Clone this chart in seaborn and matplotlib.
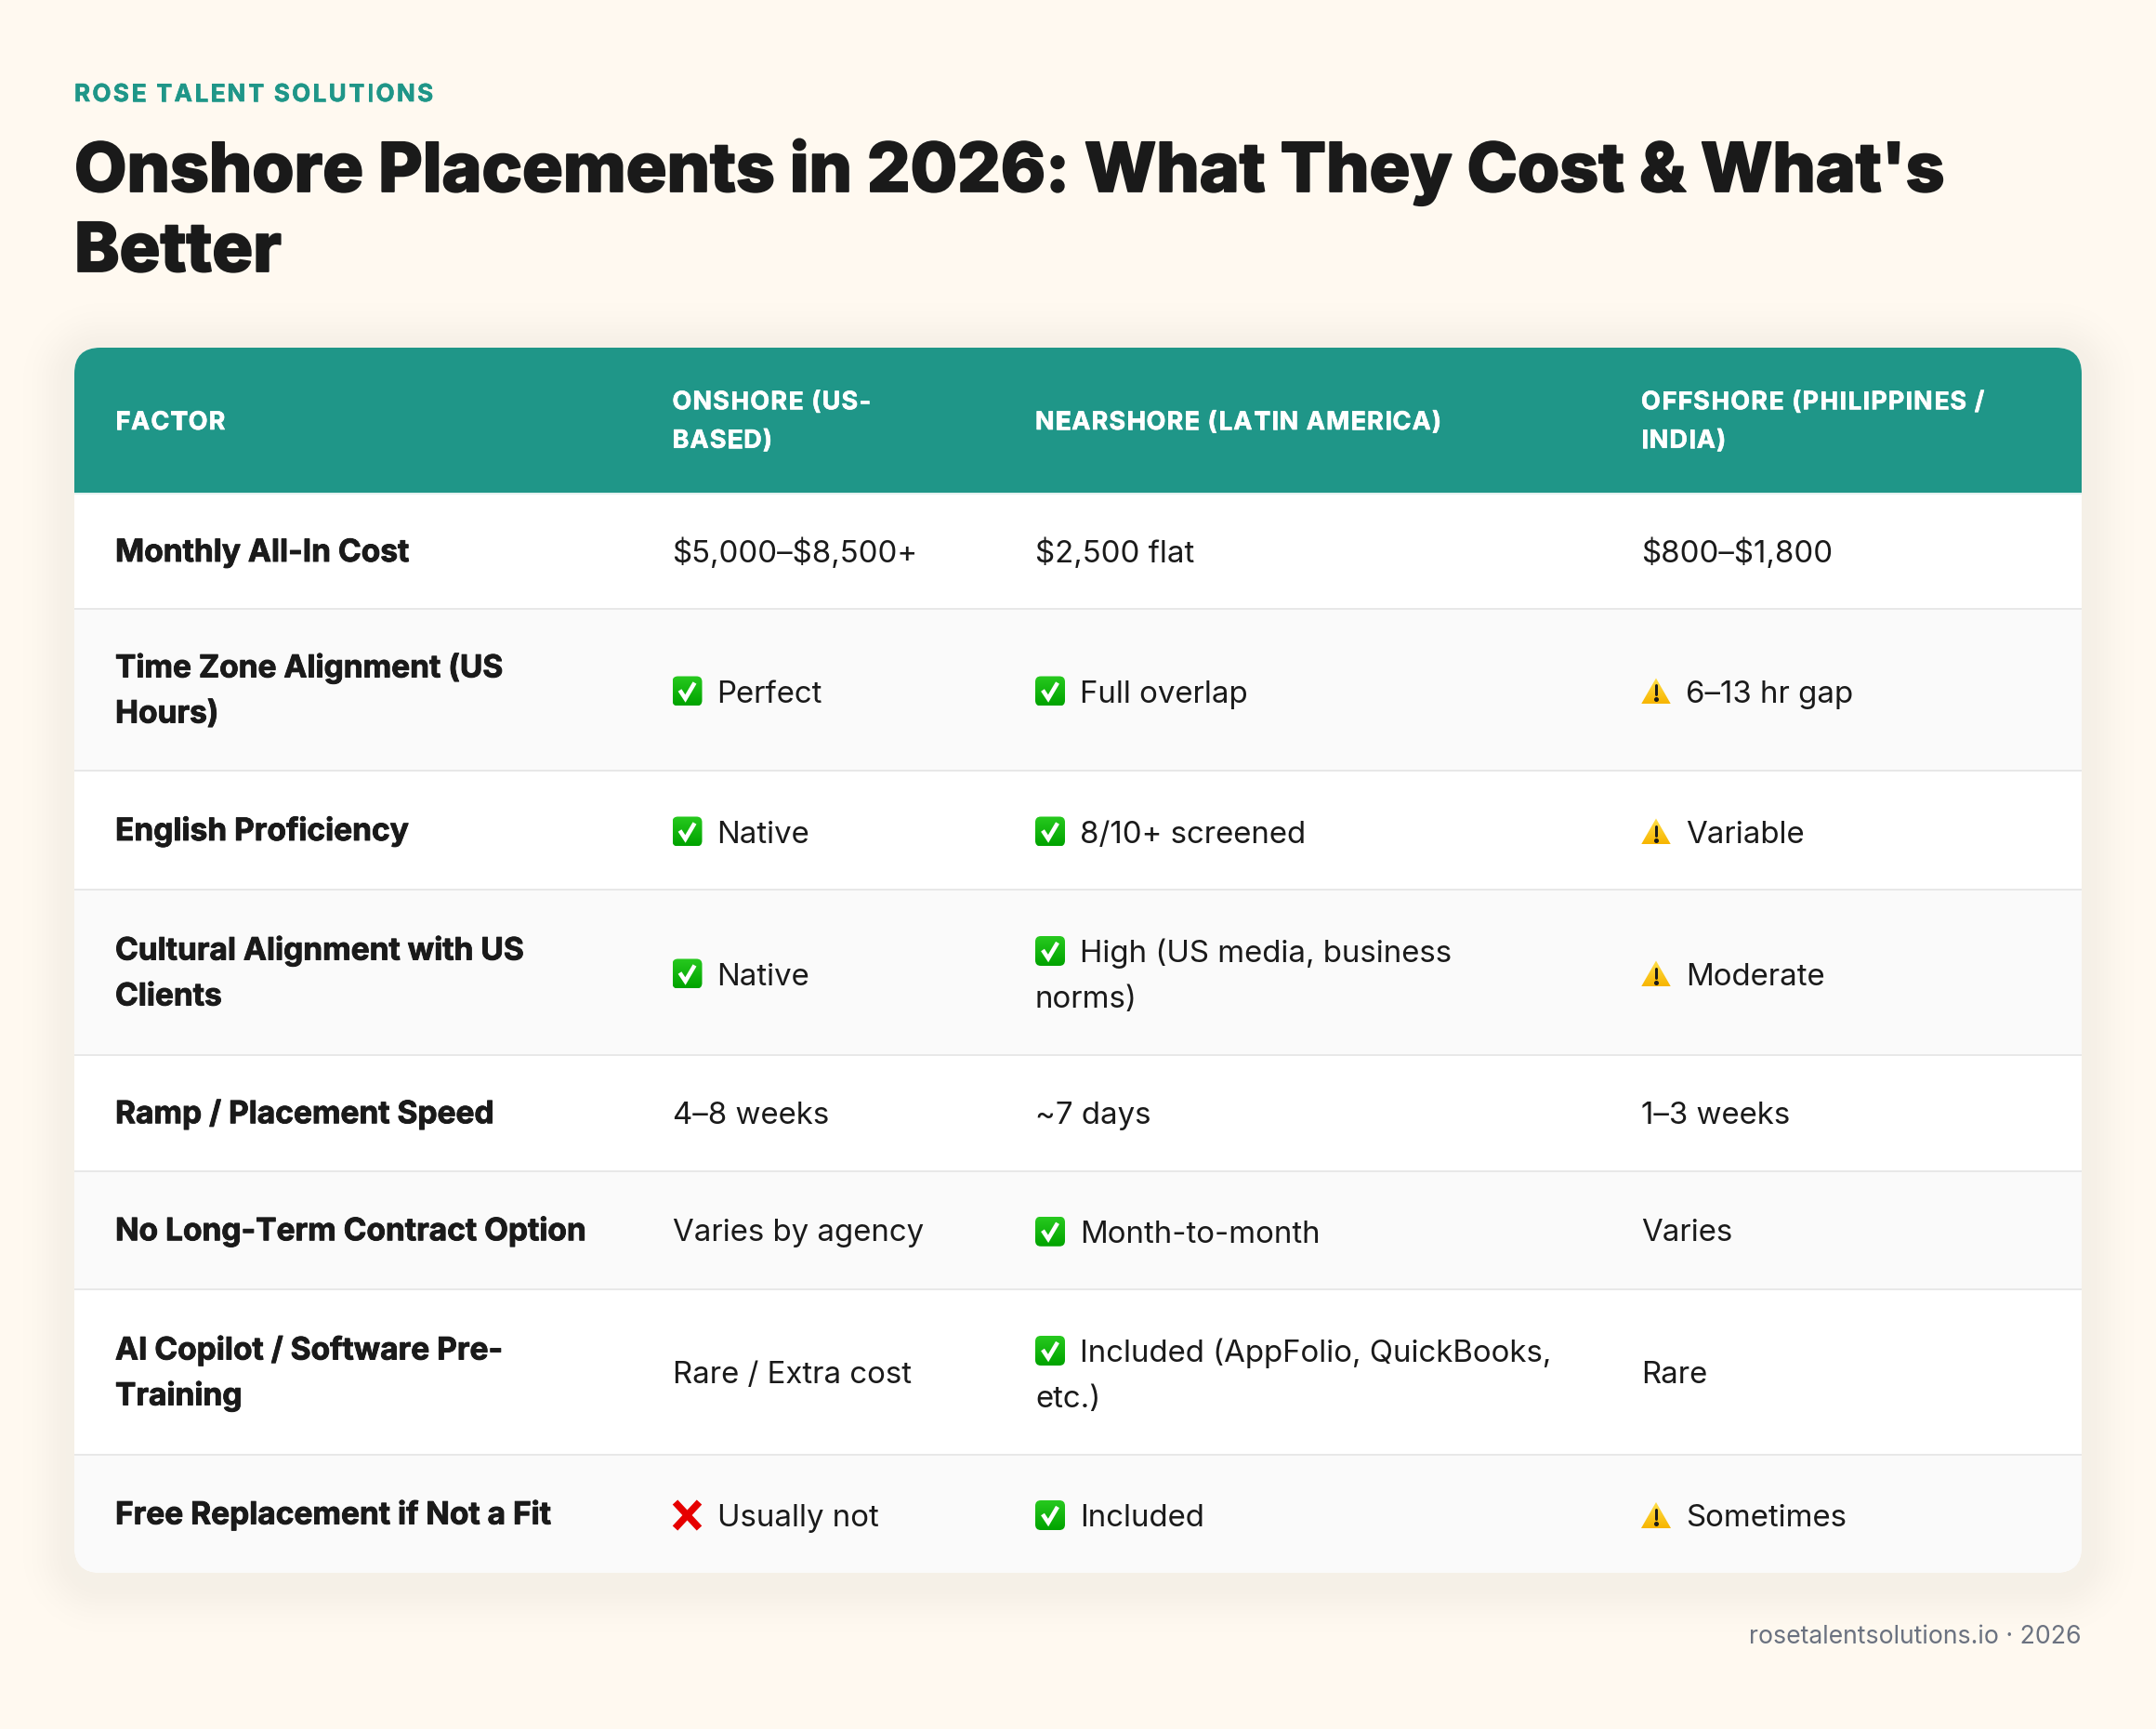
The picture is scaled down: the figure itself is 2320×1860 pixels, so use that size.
import numpy as np
import seaborn as sns
import matplotlib.pyplot as plt
import matplotlib.patheffects as pe
from matplotlib.patches import FancyBboxPatch, Rectangle, Polygon
from matplotlib.font_manager import FontProperties

# table content
eyebrow = "ROSE TALENT SOLUTIONS"
title_lines = ["Onshore Placements in 2026: What They Cost & What's", "Better"]
footer = "rosetalentsolutions.io · 2026"
headers = ["FACTOR", "ONSHORE (US-\nBASED)", "NEARSHORE (LATIN AMERICA)", "OFFSHORE (PHILIPPINES /\nINDIA)"]
factors = ["Monthly All-In Cost", "Time Zone Alignment (US\nHours)", "English Proficiency",
           "Cultural Alignment with US\nClients", "Ramp / Placement Speed",
           "No Long-Term Contract Option", "AI Copilot / Software Pre-\nTraining", "Free Replacement if Not a Fit"]
onshore = ["$5,000–$8,500+", "Perfect", "Native", "Native", "4–8 weeks", "Varies by agency", "Rare / Extra cost", "Usually not"]
onshore_flag = [None, "check", "check", "check", None, None, None, "cross"]
nearshore = ["$2,500 flat", "Full overlap", "8/10+ screened", "High (US media, business\nnorms)", "~7 days",
             "Month-to-month", "Included (AppFolio, QuickBooks,\netc.)", "Included"]
nearshore_flag = [None, "check", "check", "check", None, "check", "check", "check"]
offshore = ["$800–$1,800", "6–13 hr gap", "Variable", "Moderate", "1–3 weeks", "Varies", "Rare", "Sometimes"]
offshore_flag = [None, "warn", "warn", "warn", None, None, None, "warn"]

# layout in pixels
W, H = 2320, 1860
card = (80, 374, 2240, 1692)
header_bottom = 530
row_edges = [531, 655, 829, 957, 1135, 1259.5, 1387, 1565, 1692]
col_x = [124, 723.5, 1114, 1766]
LINE = 49
FONT = ['Inter', 'DejaVu Sans']
TEAL = "#1f9688"
INK = "#1a1a1a"
BG = "#fff9f0"


def pt(px):
    return px * 0.72


sns.set_theme(style="white")
plt.rcParams['font.family'] = FONT

fig = plt.figure(figsize=(W / 100, H / 100), dpi=100, facecolor=BG)
ax = fig.add_axes([0, 0, 1, 1])
ax.set_facecolor(BG)
sns.despine(ax=ax, left=True, bottom=True)


def heavy(px, color=INK):
    return [pe.withStroke(linewidth=pt(px), foreground=color)]


def spaced(x, y, s, size, weight, color, tracking):
    # matplotlib has no letter spacing, so place the letters one by one
    prop = FontProperties(family=FONT, size=pt(size), weight=weight)
    rend = fig.canvas.get_renderer()
    ref = rend.get_text_width_height_descent("x", prop, False)[0]
    for i, ch in enumerate(s):
        adv = rend.get_text_width_height_descent(s[:i] + "x", prop, False)[0] - ref
        ax.text(x + adv + i * tracking, y, ch, fontproperties=prop, color=color, va="baseline", ha="left",
                zorder=6, path_effects=heavy(0.6, color))


def gradient(extent, top, bottom, clip):
    c0, c1 = np.array(plt.matplotlib.colors.to_rgb(top)), np.array(plt.matplotlib.colors.to_rgb(bottom))
    t = np.linspace(0, 1, 32)[:, None, None]
    im = ax.imshow(c0 + (c1 - c0) * t, extent=extent, origin="upper", aspect="auto", zorder=4, interpolation="bilinear")
    im.set_clip_path(clip)


def draw_flag(kind, x, yc):
    if kind == "check":
        box = FancyBboxPatch((x + 4, yc - 12), 24, 24, boxstyle="round,pad=4,rounding_size=6",
                             fc="none", ec="none", transform=ax.transData)
        ax.add_patch(box)
        gradient((x, x + 32, yc + 16, yc - 16), "#27c91f", "#00a300", box)
        ax.plot([x + 8, x + 14, x + 24], [yc - 1, yc + 8, yc - 9], color="white", lw=pt(4.5), zorder=5,
                solid_capstyle="butt", solid_joinstyle="miter")
    elif kind == "warn":
        tri = Polygon([[x + 16, yc - 14], [x + 32, yc + 14], [x, yc + 14]], closed=True, fc="none", ec="none",
                      joinstyle="round")
        ax.add_patch(tri)
        gradient((x, x + 32, yc + 14, yc - 14), "#ffdf4a", "#f7b500", tri)
        ax.plot([x + 16, x + 16], [yc - 6, yc + 4], color="#1a1a1a", lw=pt(3), zorder=5, solid_capstyle="round")
        ax.plot([x + 16], [yc + 9], "o", color="#1a1a1a", ms=pt(3.6), zorder=5)
    elif kind == "cross":
        for sgn in (1, -1):
            ax.plot([x + 3, x + 29], [yc - sgn * 14, yc + sgn * 14], color="#e60000", lw=pt(7.5), zorder=5,
                    solid_capstyle="butt")


# soft card shadow
yy, xx = np.mgrid[0:H, 0:W]
cx, cy = (card[0] + card[2]) / 2, (card[1] + card[3]) / 2 + 8
r = 28
qx = np.abs(xx - cx) - (card[2] - card[0]) / 2 + r
qy = np.abs(yy - cy) - (card[3] - card[1]) / 2 + r
dist = np.hypot(np.maximum(qx, 0), np.maximum(qy, 0)) + np.minimum(np.maximum(qx, qy), 0) - r
shadow = np.zeros((H, W, 4))
shadow[..., :3] = (0.1, 0.08, 0.05)
shadow[..., 3] = 0.042 * np.exp(-(np.maximum(dist, 0) / 36) ** 2)
ax.imshow(shadow, extent=(0, W, H, 0), origin="upper", aspect="auto", zorder=0)

# card with rows clipped to its rounded corners
clip = FancyBboxPatch((card[0] + r, card[1] + r), card[2] - card[0] - 2 * r, card[3] - card[1] - 2 * r,
                      boxstyle=f"round,pad={r},rounding_size={r}", fc="white", ec="none", zorder=1)
ax.add_patch(clip)
hdr = Rectangle((card[0], card[1]), card[2] - card[0], header_bottom - card[1], fc=TEAL, ec="none", zorder=2)
ax.add_patch(hdr)
hdr.set_clip_path(clip)
for i in range(len(factors)):
    top, bot = row_edges[i], row_edges[i + 1]
    band = Rectangle((card[0], top), card[2] - card[0], bot - top, fc="#fafafa" if i % 2 else "white", ec="none", zorder=2)
    ax.add_patch(band)
    band.set_clip_path(clip)
    if i < len(factors) - 1:
        ax.plot([card[0], card[2]], [bot, bot], color="#e8e8e8", lw=pt(2), zorder=3, solid_capstyle="butt")
ax.plot([card[0], card[2]], [531, 531], color="#e3f1ef", lw=pt(2), zorder=3, solid_capstyle="butt")

# heading block
spaced(80, 109, eyebrow, 26, 700, TEAL, 2.3)
for line, base in zip(title_lines, [206, 292]):
    ax.text(80, base, line, fontsize=pt(73.1), fontweight=800, color=INK, va="baseline", ha="left",
            path_effects=heavy(1.8))

# header row
for x, label in zip(col_x, headers):
    lines = label.split("\n")
    yc = (card[1] + header_bottom) / 2
    for k, line in enumerate(lines):
        base = yc + (10 if len(lines) == 1 else 9) + (k - (len(lines) - 1) / 2) * 41.5
        spaced(x, base, line, 27, 700, "white", 1.2)

# body rows
for i in range(len(factors)):
    yc = (row_edges[i] + row_edges[i + 1]) / 2
    lines = factors[i].split("\n")
    for k, line in enumerate(lines):
        ax.text(col_x[0], yc + 11 + (k - (len(lines) - 1) / 2) * LINE, line, fontsize=pt(33.5), fontweight=700,
                color=INK, va="baseline", ha="left", zorder=6, path_effects=heavy(0.9))
    cols = [(col_x[1], onshore, onshore_flag), (col_x[2], nearshore, nearshore_flag), (col_x[3], offshore, offshore_flag)]
    for x, vals, flags in cols:
        lines = vals[i].split("\n")
        flag = flags[i]
        shift = 13.5 if flag else 11.5
        for k, line in enumerate(lines):
            base = yc + shift + (k - (len(lines) - 1) / 2) * LINE
            tx = x + 48 if (flag and k == 0) else x
            ax.text(tx, base, line, fontsize=pt(33), fontweight=400, color=INK, va="baseline", ha="left", zorder=6,
                    parse_math=False)
            if flag and k == 0:
                draw_flag(flag, x, base - 12)

ax.text(2240, 1768, footer, fontsize=pt(26.7), color="#6b7280", va="baseline", ha="right", zorder=6)

ax.set_xlim(0, W)
ax.set_ylim(H, 0)
ax.axis("off")
fig.savefig("out.png", dpi=100, facecolor=fig.get_facecolor())
